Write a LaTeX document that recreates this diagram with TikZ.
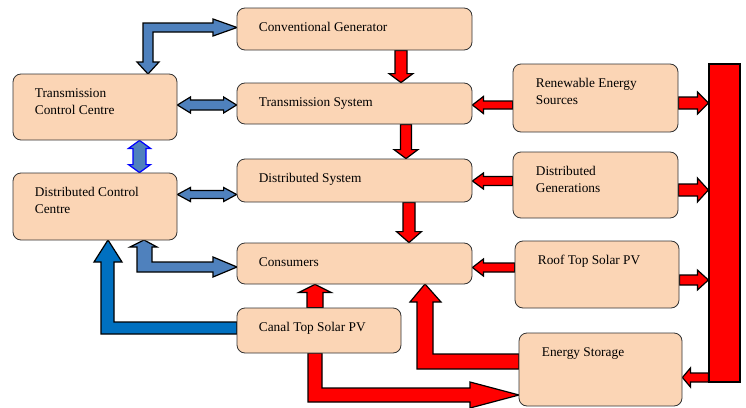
\documentclass[tikz,border=0pt]{standalone}
\usepackage{fontspec}
\setmainfont{Liberation Serif}
\usetikzlibrary{calc,backgrounds}
\definecolor{peach}{HTML}{FBD5B5}
\definecolor{steel}{HTML}{4F81BD}
\definecolor{dblue}{HTML}{0070C0}
\newdimen\badx \newdimen\bady
\newcommand{\measba}[2]{%
  \path (#1) coordinate (ba-s) (#2) coordinate (ba-e);
  \pgfmathanglebetweenpoints{\pgfpointanchor{ba-s}{center}}{\pgfpointanchor{ba-e}{center}}%
  \xdef\baang{\pgfmathresult}%
  \pgfextractx{\badx}{\pgfpointdiff{\pgfpointanchor{ba-s}{center}}{\pgfpointanchor{ba-e}{center}}}%
  \pgfextracty{\bady}{\pgfpointdiff{\pgfpointanchor{ba-s}{center}}{\pgfpointanchor{ba-e}{center}}}%
  \pgfmathveclen{\the\badx}{\the\bady}\xdef\balen{\pgfmathresult}%
}
% #1 style, #2 from, #3 to, #4 half shaft, #5 half head, #6 head length (px)
\newcommand{\fatarrow}[6][]{%
  \measba{#2}{#3}%
  \draw[#1, shift={(ba-s)}, rotate=\baang]
    (0pt,{0.75pt*#4}) -- ({\balen pt-0.75pt*#6},{0.75pt*#4}) -- ({\balen pt-0.75pt*#6},{0.75pt*#5})
    -- ({\balen pt},0pt) -- ({\balen pt-0.75pt*#6},{-0.75pt*#5}) -- ({\balen pt-0.75pt*#6},{-0.75pt*#4})
    -- (0pt,{-0.75pt*#4}) -- cycle;
}
\newcommand{\fatdarrow}[6][]{%
  \measba{#2}{#3}%
  \draw[#1, shift={(ba-s)}, rotate=\baang]
    (0pt,0pt) -- ({0.75pt*#6},{0.75pt*#5}) -- ({0.75pt*#6},{0.75pt*#4})
    -- ({\balen pt-0.75pt*#6},{0.75pt*#4}) -- ({\balen pt-0.75pt*#6},{0.75pt*#5})
    -- ({\balen pt},0pt) -- ({\balen pt-0.75pt*#6},{-0.75pt*#5}) -- ({\balen pt-0.75pt*#6},{-0.75pt*#4})
    -- ({0.75pt*#6},{-0.75pt*#4}) -- ({0.75pt*#6},{-0.75pt*#5}) -- cycle;
}
\begin{document}
\begin{tikzpicture}[x=0.75pt,y=-0.75pt,
  blk/.style 2 args={draw=black!80, line width=0.6pt, fill=peach, rounded corners=6pt,
     inner sep=0pt, minimum width=#1*0.75pt, minimum height=#2*0.75pt},
  lbl/.style={inner sep=0pt, align=left, anchor=base west, font=\fontsize{10}{12.75}\selectfont},
  redarr/.style={fill=red, draw=black, line width=0.9pt, line join=miter},
  bluearr/.style={fill=steel, draw=black, line width=0.9pt, line join=miter},
  ctrlarr/.style={fill=steel, draw=blue, line width=0.9pt, line join=miter},
  dbluearr/.style={fill=dblue, draw=black, line width=0.9pt, line join=miter},
  barstyle/.style={fill=red, draw=black, line width=0.9pt, inner sep=0pt, minimum width=31*0.75pt, minimum height=318*0.75pt}]
\useasboundingbox (0,0) rectangle (746,407);
% boxes
\node[blk={235}{42}] (cg) at (354.5,29) {};
\node[blk={235}{41}] (ts) at (354.5,103.5) {};
\node[blk={235}{43}] (ds) at (354.5,180.5) {};
\node[blk={235}{41}] (con) at (354.5,263.5) {};
\node[blk={164}{66}] (tcc) at (95,107) {};
\node[blk={164}{67}] (dcc) at (95,206.5) {};
\node[blk={165}{68}] (res) at (595.5,98) {};
\node[blk={165}{66}] (dg) at (595.5,185) {};
\node[blk={164}{67}] (roof) at (597,274.5) {};
\node[blk={163}{73}] (es) at (600.5,369.5) {};
\node[blk={164}{45}] (canal) at (319,330.5) {};
\node[barstyle] (bar) at (724.5,223) {};
% texts
\node[lbl] (cg-t) at ([xshift=16.5pt,yshift=-18pt]cg.north west) {Conventional Generator};
\node[lbl] (ts-t) at ([xshift=16.5pt,yshift=-18pt]ts.north west) {Transmission System};
\node[lbl] (ds-t) at ([xshift=16.5pt,yshift=-18pt]ds.north west) {Distributed System};
\node[lbl] (con-t) at ([xshift=16.5pt,yshift=-18pt]con.north west) {Consumers};
\node[lbl] (tcc-t) at ([xshift=16.5pt,yshift=-30.75pt]tcc.north west) {Transmission\\Control Centre};
\node[lbl] (dcc-t) at ([xshift=16.5pt,yshift=-30.75pt]dcc.north west) {Distributed Control\\Centre};
\node[lbl] (res-t) at ([xshift=17.25pt,yshift=-30.75pt]res.north west) {Renewable Energy\\Sources};
\node[lbl] (dg-t) at ([xshift=17.25pt,yshift=-30.75pt]dg.north west) {Distributed\\Generations};
\node[lbl] (roof-t) at ([xshift=17.25pt,yshift=-18pt]roof.north west) {Roof Top Solar PV};
\node[lbl] (es-t) at ([xshift=17.25pt,yshift=-18pt]es.north west) {Energy Storage};
\node[lbl] (canal-t) at ([xshift=16.5pt,yshift=-18pt]canal.north west) {Canal Top Solar PV};
\begin{pgfonlayer}{background}
% straight red arrows
\fatarrow[redarr]{[xshift=34.875pt]cg.south}{[xshift=34.875pt]ts.north}{6}{12}{9}
\fatarrow[redarr]{[xshift=38.625pt]ts.south}{[xshift=38.625pt]ds.north}{5.5}{12}{9}
\fatarrow[redarr]{[xshift=40.875pt]ds.south}{[xshift=40.875pt]con.north}{6}{12.5}{11}
\fatarrow[redarr]{[yshift=-5.25pt]res.west}{[yshift=-1.125pt]ts.east}{4}{8.5}{11}
\fatarrow[redarr]{[yshift=3pt]dg.west}{[yshift=-0.375pt]ds.east}{4.5}{8}{11}
\fatarrow[redarr]{[yshift=5.25pt]roof.west}{[yshift=-3pt]con.east}{4.5}{8.5}{11}
\fatarrow[redarr]{[yshift=-3.75pt]res.east}{[yshift=90pt]bar.west}{6}{11}{11}
\fatarrow[redarr]{[yshift=-3.75pt]dg.east}{[yshift=24.75pt]bar.west}{6}{12}{11}
\fatarrow[redarr]{[yshift=-4.125pt]roof.east}{[yshift=-42.75pt]bar.west}{5}{10}{11}
\fatarrow[redarr]{[yshift=-115.875pt]bar.west}{[yshift=-6pt]es.east}{4.5}{9.5}{8}
\fatarrow[redarr]{[xshift=-3pt]canal.north}{[xshift=-29.625pt]con.south}{8}{16}{8}
% double blue arrows
\fatdarrow[bluearr]{[yshift=1.5pt]tcc.east}{[yshift=-1.125pt]ts.west}{5}{8}{13}
\fatdarrow[bluearr]{[yshift=9pt]dcc.east}{[yshift=-10.5pt]ds.west}{4}{7}{13}
\fatdarrow[ctrlarr]{[xshift=33.375pt]tcc.south}{[xshift=33.375pt]dcc.north}{6.5}{11}{8}
% elbow arrows
\draw[bluearr] (143,23) -- (213,23) -- (213,19) -- (237,27.5) -- (213,36) -- (213,32)
  -- (153,32) -- (153,62) -- (159,62) -- (148,74) -- (137,62) -- (143,62) -- cycle;
\draw[bluearr] (144,240) -- (157,247) -- (152,247) -- (152,262) -- (213,262) -- (213,257)
  -- (237,267) -- (213,277) -- (213,272) -- (137,272) -- (137,247) -- (130,247) -- cycle;
\draw[dbluearr] (108,240) -- (122,262) -- (114,262) -- (114,322) -- (237,322) -- (237,334)
  -- (101,334) -- (101,262) -- (94,262) -- cycle;
\draw[redarr] (425,284) -- (441,302) -- (433,302) -- (433,354) -- (519,354) -- (519,369)
  -- (417,369) -- (417,302) -- (410,302) -- cycle;
\draw[redarr] (308,353) -- (322,353) -- (322,388) -- (470,388) -- (470,382) -- (519,395)
  -- (470,408) -- (470,402) -- (308,402) -- cycle;
\end{pgfonlayer}
\end{tikzpicture}
\end{document}
